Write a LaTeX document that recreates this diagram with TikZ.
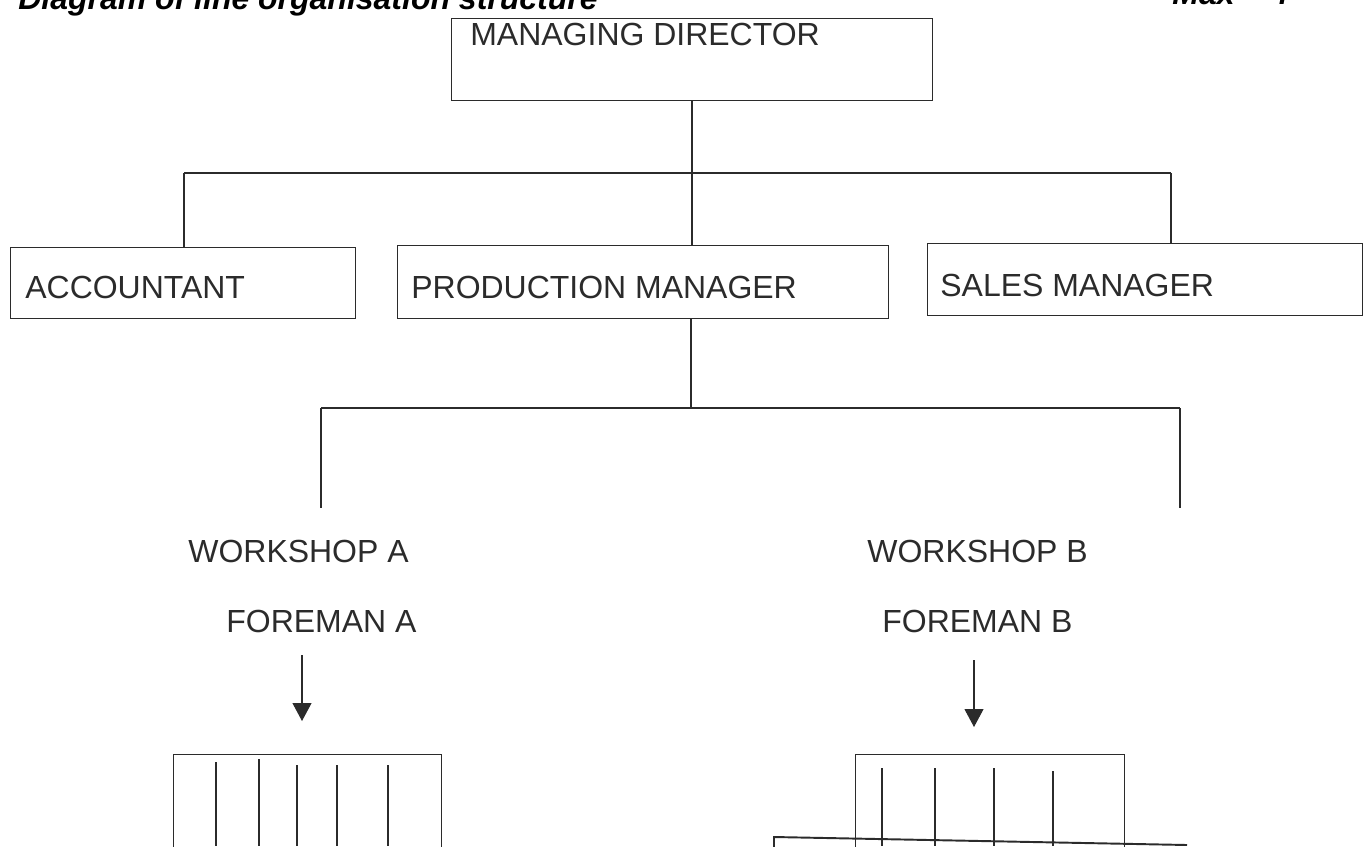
\documentclass[tikz,border=0pt]{standalone}
\usepackage{fontspec}
\setmainfont{Liberation Sans}
\usetikzlibrary{arrows.meta,positioning}
\definecolor{Tinta}{HTML}{2B2B2B}
\tikzset{
  caja/.style    = {draw=Tinta, line width=0.6pt, rectangle, inner sep=0pt},
  txt/.style     = {font=\fontsize{18.2}{22}\selectfont, text=Tinta,
                    inner sep=0pt, anchor=base west},
  titulo/.style  = {font=\fontsize{18.2}{22}\selectfont\bfseries\itshape,
                    inner sep=0pt, anchor=base west},
  linea/.style   = {draw=Tinta, line width=0.6pt},
  flecha/.style  = {linea, -{Triangle[width=3.8mm,length=3.6mm]}},
}

\begin{document}
\begin{tikzpicture}[x=0.02cm, y=-0.02cm]
  \useasboundingbox (0,0) rectangle (1366,846);
  % titulo, cortado por arriba
  \node[titulo] (tit) at (18,9)   {Diagram of line organisation structure};
  \node[titulo] (max) at (1172,4) {Max = 4};
  % cajas
  \node[caja, anchor=north west, minimum width=9.62cm, minimum height=1.64cm] (md)  at (451,18)  {};
  \node[caja, anchor=north west, minimum width=6.9cm,  minimum height=1.42cm] (acc) at (10,247)  {};
  \node[caja, anchor=north west, minimum width=9.82cm, minimum height=1.46cm] (pm)  at (397,245) {};
  \node[caja, anchor=north west, minimum width=8.7cm,  minimum height=1.44cm] (sm)  at (927,243) {};
  \node[caja, anchor=north west, minimum width=5.36cm, minimum height=2.92cm] (ta)  at (173,754) {};
  \node[caja, anchor=north west, minimum width=5.38cm, minimum height=2.92cm] (tb)  at (855,754) {};
  % textos
  \node[txt] (mdt)  at (470,45)  {MANAGING DIRECTOR};
  \node[txt] (acct) at (25,298)  {ACCOUNTANT};
  \node[txt] (pmt)  at (411,298) {PRODUCTION MANAGER};
  \node[txt] (smt)  at (940,296) {SALES MANAGER};
  \node[txt] (wa)   at (188,562) {WORKSHOP A};
  \node[txt] (wb)   at (867,562) {WORKSHOP B};
  \node[txt] (fa)   at (226,632) {FOREMAN A};
  \node[txt] (fb)   at (882,632) {FOREMAN B};
  % puntos de las lineas
  \coordinate (b1L) at (184,173);
  \coordinate (b1R) at (1171,173);
  \coordinate (b2)  at (691,408);
  \coordinate (b2L) at (321,408);
  \coordinate (b2R) at (1180,408);
  \coordinate (wA)  at (321,508);
  \coordinate (wB)  at (1180,508);
  \coordinate (fA1) at (302,655);
  \coordinate (fA2) at (302,721);
  \coordinate (fB1) at (974,660);
  \coordinate (fB2) at (974,727);
  % lineas de mando
  \draw[linea] (md.south) -- (md.south |- pm.north);
  \draw[linea] (b1L) -- (b1R);
  \draw[linea] (b1L) -- (b1L |- acc.north);
  \draw[linea] (b1R) -- (b1R |- sm.north);
  \draw[linea] (pm.south -| b2) -- (b2);
  \draw[linea] (b2L) -- (b2R);
  \draw[linea] (b2L) -- (wA);
  \draw[linea] (b2R) -- (wB);
  \draw[flecha] (fA1) -- (fA2);
  \draw[flecha] (fB1) -- (fB2);
  % trabajadores
  \foreach \x/\a in {216/762, 259/759, 297/765, 337/765, 388/765}
    \draw[linea] (\x,\a) -- (\x,846);
  \foreach \x/\a in {882/768, 935/768, 994/768, 1053/771}
    \draw[linea] (\x,\a) -- (\x,846);
  % hoja superpuesta, cortada por abajo
  \draw[linea, line width=1.1pt] (774,900) -- (774,837) -- (1187,845);
\end{tikzpicture}
\end{document}
